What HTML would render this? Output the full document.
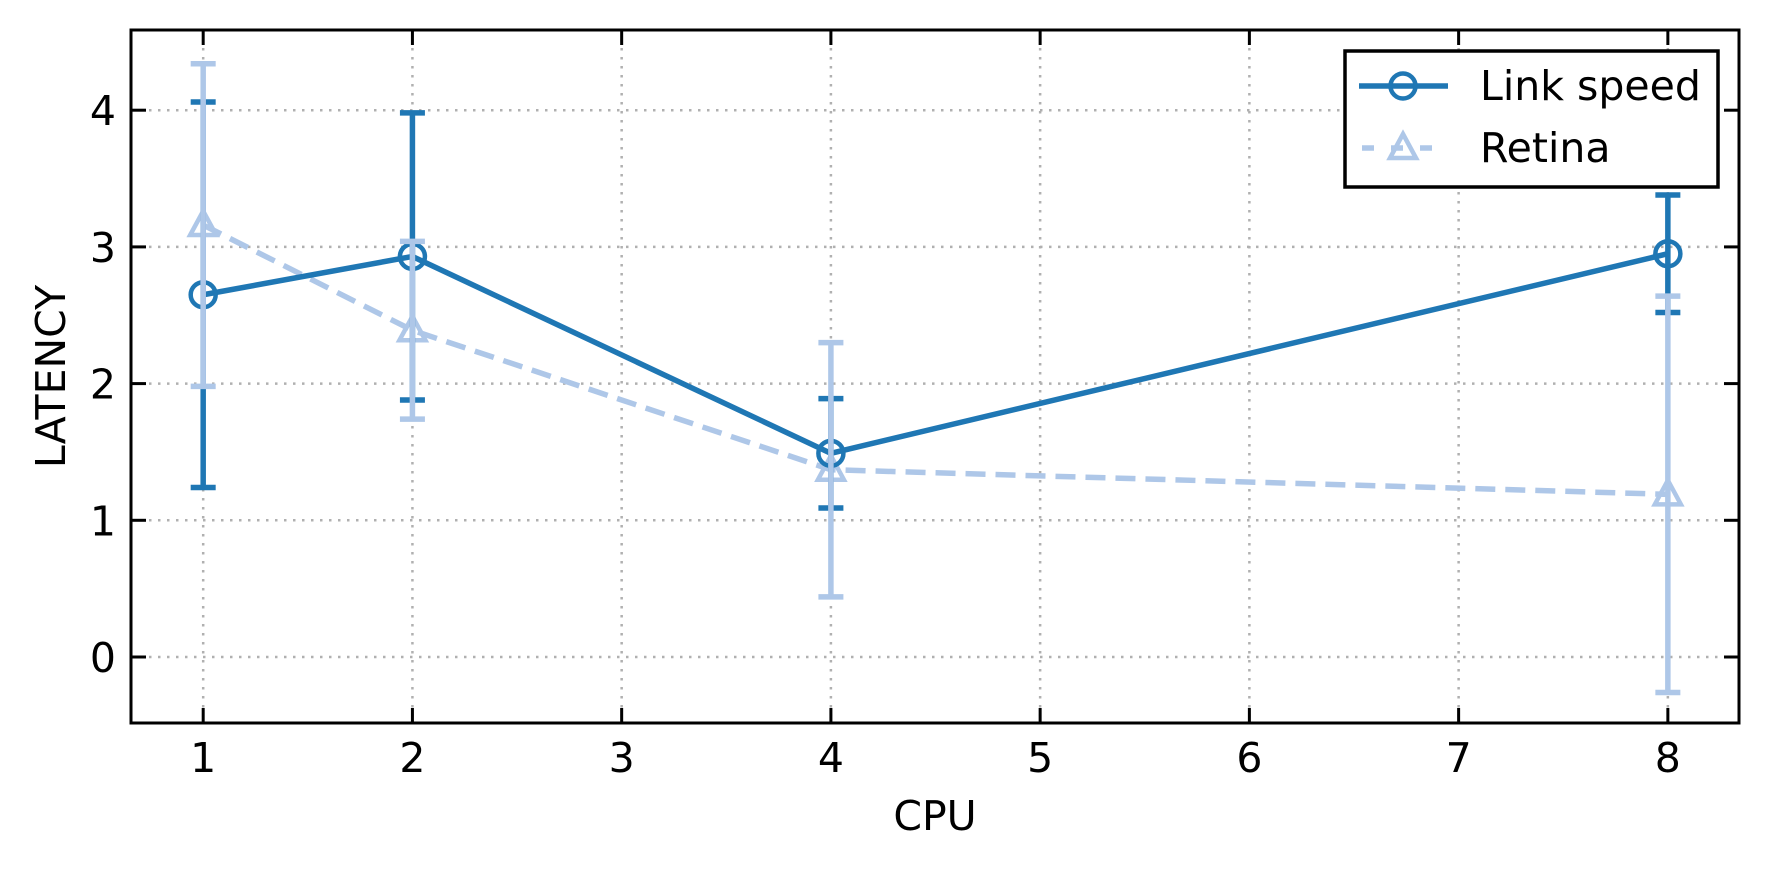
<!DOCTYPE html>
<html><head><meta charset="utf-8"><style>html,body{margin:0;padding:0;background:#fff}svg{display:block}text{font-family:"DejaVu Sans","Liberation Sans",sans-serif}</style></head>
<body>
<svg id="chart" width="1769" height="870" xmlns="http://www.w3.org/2000/svg"></svg>
<script>
const categories=[1,2,4,8];
const linkVals=[2.65,2.93,1.49,2.95];
const linkErr=[1.41,1.05,0.40,0.43];
const retinaVals=[3.16,2.39,1.37,1.19];
const retinaErr=[1.18,0.65,0.93,1.45];
const xTicks=[1,2,3,4,5,6,7,8];
const yTicks=[0,1,2,3,4];

const L=131,R=1739,T=30,B=723;
const xMin=0.655,xMax=8.34;
const X=v=>L+(v-xMin)/(xMax-xMin)*(R-L);
const Y=v=>657-v*136.7;
const svg=document.getElementById('chart');
const NS='http://www.w3.org/2000/svg';
function el(tag,attrs,parent){const e=document.createElementNS(NS,tag);for(const k in attrs)e.setAttribute(k,attrs[k]);(parent||svg).appendChild(e);return e;}

const grid=el('g',{});


xTicks.forEach(t=>{const g=el('line',{x1:X(t),x2:X(t),y1:T,y2:B,stroke:'#b0b0b0','stroke-width':2.5,'stroke-dasharray':'2.5 6.5'},grid);

});
yTicks.forEach(t=>{const g=el('line',{x1:L,x2:R,y1:Y(t),y2:Y(t),stroke:'#b0b0b0','stroke-width':2.5,'stroke-dasharray':'2.5 6.5'},grid);

});

function seriesLine(vals,color,dash,marker,name){
  const g=el('g',{});
  
  
  const ln=el('polyline',{points:vals.map((v,i)=>X(categories[i])+','+Y(v)).join(' '),stroke:color,'stroke-width':5.5,fill:'none','stroke-dasharray':dash},g);
  
  
  vals.forEach((v,i)=>{const x=X(categories[i]),y=Y(v);let m;
    if(marker==='o')m=el('circle',{cx:x,cy:y,r:12.5,fill:'none',stroke:color,'stroke-width':4.5},g);
    else m=el('path',{d:`M${x},${y-14}L${x+13},${y+10}L${x-13},${y+10}Z`,fill:'none',stroke:color,'stroke-width':4.5},g);
    
    });
}
function seriesErr(vals,errs,color,name){
  const g=el('g',{});
  
  
  vals.forEach((v,i)=>{const x=X(categories[i]);
    const e=el('path',{d:`M${x},${Y(v-errs[i])}V${Y(v+errs[i])}M${x-12.5},${Y(v-errs[i])}h25M${x-12.5},${Y(v+errs[i])}h25`,stroke:color,'stroke-width':5.5,fill:'none'},g);
    
    });
}
seriesLine(retinaVals,'#aec7e8','20 10','^','retina');
seriesLine(linkVals,'#1f77b4','','o','link-speed');
seriesErr(linkVals,linkErr,'#1f77b4','link-speed');
seriesErr(retinaVals,retinaErr,'#aec7e8','retina');

const ax=el('g',{});


el('rect',{x:L,y:T,width:R-L,height:B-T,fill:'none',stroke:'#000','stroke-width':3},ax);
xTicks.forEach(t=>{el('line',{x1:X(t),x2:X(t),y1:B,y2:B-15,stroke:'#000','stroke-width':3},ax);el('line',{x1:X(t),x2:X(t),y1:T,y2:T+15,stroke:'#000','stroke-width':3},ax);
const tx=el('text',{x:X(t),y:772,'font-size':41,'text-anchor':'middle'},ax);tx.textContent=t;

});
yTicks.forEach(t=>{el('line',{x1:L,x2:L+15,y1:Y(t),y2:Y(t),stroke:'#000','stroke-width':3},ax);el('line',{x1:R,x2:R-15,y1:Y(t),y2:Y(t),stroke:'#000','stroke-width':3},ax);
const tx=el('text',{x:116,y:Y(t)+15,'font-size':41,'text-anchor':'end'},ax);tx.textContent=t;

});
const xl=el('text',{x:(L+R)/2,y:830,'font-size':41,'text-anchor':'middle'});xl.textContent='CPU';


const yl=el('text',{x:0,y:0,'font-size':41,'text-anchor':'middle',transform:`translate(65,${(T+B)/2}) rotate(-90)`});yl.textContent='LATENCY';



const lg=el('g',{});


el('rect',{x:1345,y:51,width:373,height:136,fill:'#fff',stroke:'#000','stroke-width':3.5},lg);
el('line',{x1:1359,x2:1448,y1:86,y2:86,stroke:'#1f77b4','stroke-width':5.5},lg);
el('circle',{cx:1403,cy:86,r:12.5,fill:'none',stroke:'#1f77b4','stroke-width':4.5},lg);
el('line',{x1:1362,x2:1445,y1:148,y2:148,stroke:'#aec7e8','stroke-width':5.5,'stroke-dasharray':'12 17'},lg);
el('path',{d:'M1403,134L1416,158L1390,158Z',fill:'none',stroke:'#aec7e8','stroke-width':4.5},lg);
const t1=el('text',{x:1480,y:100,'font-size':41},lg);t1.textContent='Link speed';


const t2=el('text',{x:1480,y:162,'font-size':41},lg);t2.textContent='Retina';


</script>
</body></html>
